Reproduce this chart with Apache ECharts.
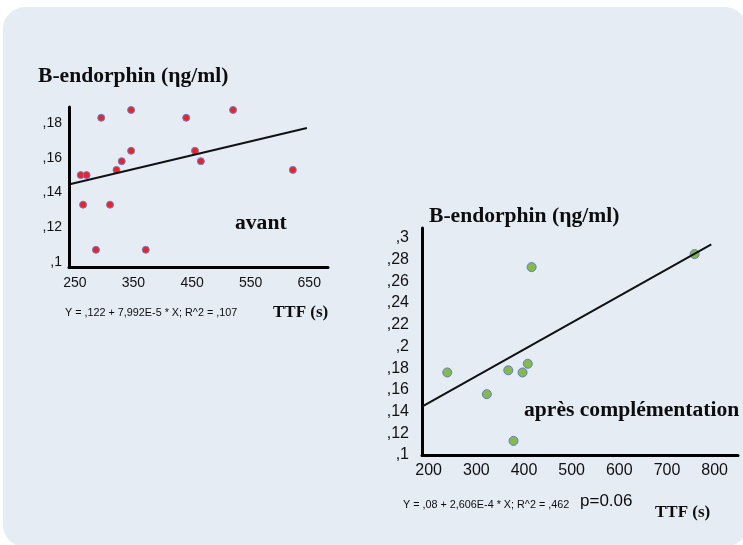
<!DOCTYPE html>
<html>
<head>
<meta charset="utf-8">
<script src="https://cdn.jsdelivr.net/npm/echarts@6/dist/echarts.min.js"></script>
<style>
  html, body { margin: 0; padding: 0; background: #fff; }
  #chart { width: 743px; height: 545px; }
</style>
</head>
<body>
<div id="chart"></div>
<script>
// avant : TTF (s) / B-endorphin
var avantTTF = [260, 270, 264, 286, 295, 310, 321, 330, 346, 346, 371, 440, 455, 465, 520, 622];
var avantBE = [0.150, 0.150, 0.133, 0.107, 0.183, 0.133, 0.153, 0.158, 0.1875, 0.164, 0.107, 0.183, 0.164, 0.158, 0.1875, 0.153];
var avantFitX = [243, 646];
var avantFitY = [0.1449, 0.1771];
var avantXTicks = [250, 350, 450, 550, 650];
var avantYTicks = [0.1, 0.12, 0.14, 0.16, 0.18];

// après complémentation
var apresTTF = [239, 322, 367, 378, 397, 408, 416, 758];
var apresBE = [0.176, 0.156, 0.178, 0.113, 0.176, 0.184, 0.273, 0.285];
var apresFitX = [186, 793];
var apresFitY = [0.1445, 0.294];
var apresXTicks = [200, 300, 400, 500, 600, 700, 800];
var apresYTicks = [0.1, 0.12, 0.14, 0.16, 0.18, 0.2, 0.22, 0.24, 0.26, 0.28, 0.3];

var sans = 'Liberation Sans';
var serif = 'Liberation Serif';

function zip(xs, ys) {
    return xs.map(function (x, i) { return [x, ys[i]]; });
}
function commaFmt(v) {
    return ',' + String(Math.round(v * 100) / 100).slice(2);
}
function xAxisCfg(idx, min, max, ticks, size, margin) {
    return {
        type: 'value', gridIndex: idx, min: min, max: max,
        axisLine: { lineStyle: { color: '#000', width: 3 } },
        axisTick: { show: false },
        splitLine: { show: false },
        axisLabel: { customValues: ticks, color: '#111', fontFamily: sans, fontSize: size, margin: margin }
    };
}
function yAxisCfg(idx, min, max, ticks, size, margin) {
    return {
        type: 'value', gridIndex: idx, min: min, max: max,
        axisLine: { show: true, lineStyle: { color: '#000', width: 3 } },
        axisTick: { show: false },
        splitLine: { show: false },
        axisLabel: { customValues: ticks, color: '#111', fontFamily: sans, fontSize: size, margin: margin, formatter: commaFmt }
    };
}
function txt(x, y, s, font, size, bold) {
    return {
        type: 'text', x: x, y: y, silent: true,
        style: { text: s, fill: '#0d0d0d', font: (bold ? 'bold ' : '') + size + 'px "' + font + '"', align: 'left', verticalAlign: 'middle' }
    };
}

var chart = echarts.init(document.getElementById('chart'));
chart.setOption({
    backgroundColor: '#fff',
    animation: false,
    grid: [
        { left: 69, top: 107, width: 259, height: 160 },
        { left: 422, top: 228, width: 316, height: 227 }
    ],
    xAxis: [
        xAxisCfg(0, 240, 682, avantXTicks, 14, 9),
        xAxisCfg(1, 186, 849, apresXTicks, 16, 8)
    ],
    yAxis: [
        yAxisCfg(0, 0.0971, 0.1892, avantYTicks, 14, 7),
        yAxisCfg(1, 0.1, 0.309, apresYTicks, 16, 13)
    ],
    graphic: [
        {
            type: 'rect', z: -100, silent: true,
            shape: { x: 3, y: 7, width: 744, height: 540, r: 22 },
            style: { fill: '#e6ecf4' }
        },
        txt(38, 76, 'B-endorphin (ηg/ml)', serif, 21.6, true),
        txt(235, 223, 'avant', serif, 21.6, true),
        txt(65, 313, 'Y = ,122 + 7,992E-5 * X; R^2 = ,107', sans, 10.8, false),
        txt(273, 313, 'TTF (s)', serif, 17, true),
        txt(429, 216, 'B-endorphin (ηg/ml)', serif, 21.6, true),
        txt(524, 410, 'après complémentation', serif, 21.6, true),
        txt(403, 505, 'Y = ,08 + 2,606E-4 * X; R^2 = ,462', sans, 10.8, false),
        txt(580, 501, 'p=0.06', sans, 17, false),
        txt(655, 513, 'TTF (s)', serif, 17, true)
    ],
    series: [
        {
            type: 'line', xAxisIndex: 0, yAxisIndex: 0,
            data: zip(avantFitX, avantFitY), symbol: 'none',
            lineStyle: { color: '#111', width: 2 }
        },
        {
            type: 'scatter', xAxisIndex: 0, yAxisIndex: 0,
            data: zip(avantTTF, avantBE), symbolSize: 7,
            itemStyle: { color: '#e8242a', borderColor: '#6f80c8', borderWidth: 1, opacity: 1 }
        },
        {
            type: 'line', xAxisIndex: 1, yAxisIndex: 1,
            data: zip(apresFitX, apresFitY), symbol: 'none',
            lineStyle: { color: '#111', width: 2 }
        },
        {
            type: 'scatter', xAxisIndex: 1, yAxisIndex: 1,
            data: zip(apresTTF, apresBE), symbolSize: 9,
            itemStyle: { color: '#86ba48', borderColor: '#5f7ec8', borderWidth: 1, opacity: 1 }
        }
    ]
});
</script>
</body>
</html>
